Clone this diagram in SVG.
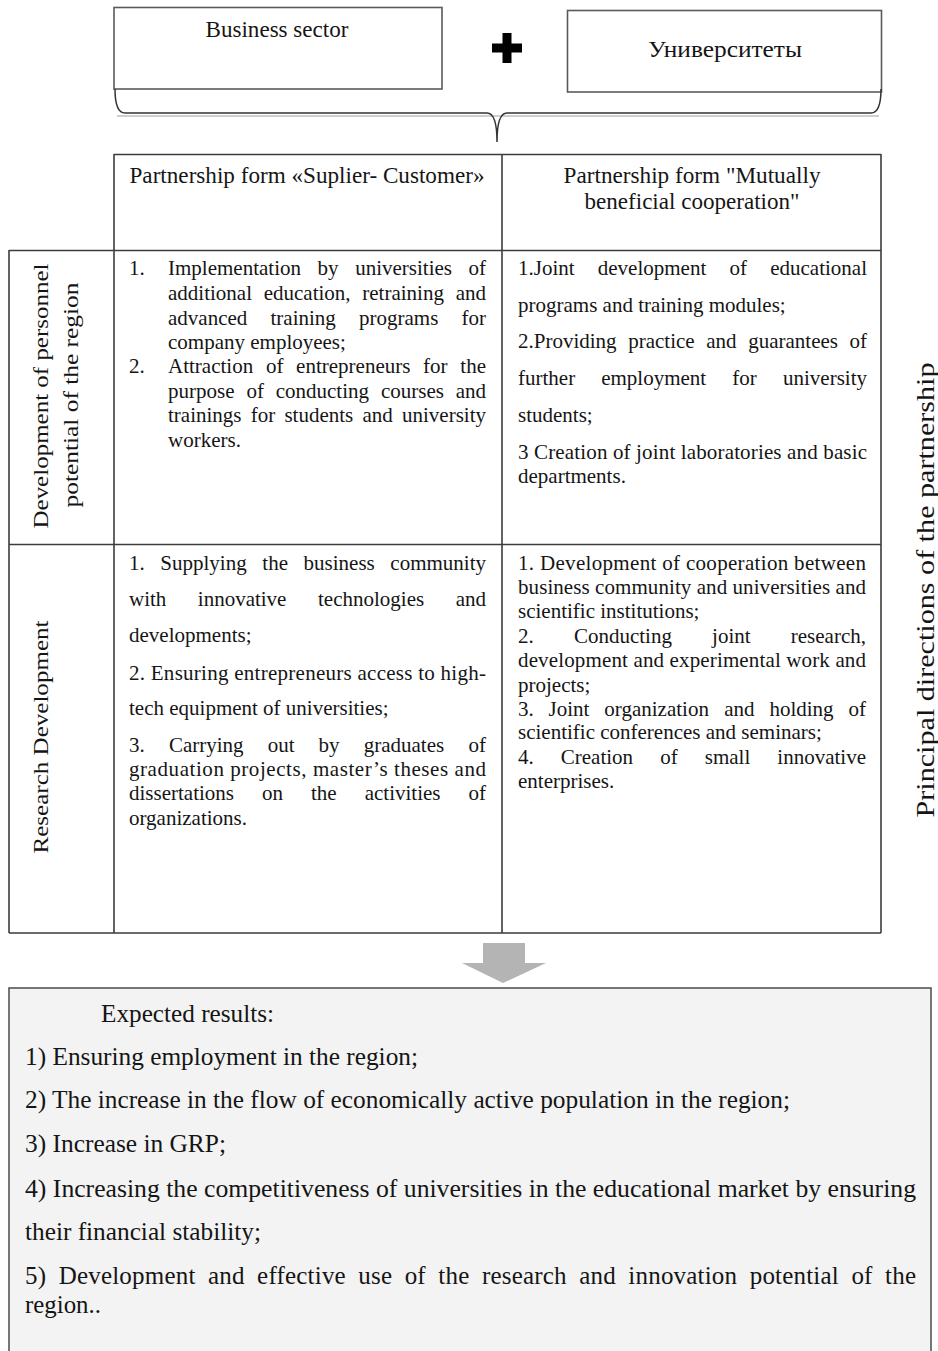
<svg xmlns="http://www.w3.org/2000/svg" width="938" height="1351" viewBox="0 0 938 1351">
<style>
.t{font-family:"Liberation Serif","Times New Roman",serif;font-size:21px;fill:#151515}
.h{font-family:"Liberation Serif","Times New Roman",serif;font-size:22.5px;fill:#151515;text-anchor:middle}
.v{font-family:"Liberation Serif","Times New Roman",serif;font-size:22px;fill:#151515;text-anchor:middle}
.r{font-family:"Liberation Serif","Times New Roman",serif;font-size:25px;fill:#151515}
.top{font-family:"Liberation Serif","Times New Roman",serif;font-size:23px;fill:#151515;text-anchor:middle}
.grid{stroke:#3c3c3c;stroke-width:1.6;fill:none}
.box{fill:#fff;stroke:#5a5a5a;stroke-width:1.6}
.e{text-anchor:end}
</style>
<rect width="938" height="1351" fill="#fff"/>

<g id="business-sector">
<rect class="box" x="114" y="7.5" width="328" height="81.5"/>
<text class="top" x="277" y="37" textLength="143" lengthAdjust="spacingAndGlyphs">Business sector</text>
</g>

<g id="plus">
<path d="M502.5,33 h9 v10.5 h10.5 v9 h-10.5 v10.5 h-9 v-10.5 h-10.5 v-9 h10.5 z" fill="#000"/>
</g>

<g id="universities">
<rect class="box" x="567.5" y="10.5" width="314" height="81.5"/>
<text class="top" x="725" y="57" textLength="154" lengthAdjust="spacingAndGlyphs">Университеты</text>
</g>

<g id="connectors">
<path d="M117,116 L879,116" stroke="#cfcfcf" stroke-width="2" fill="none"/>
<path d="M115,89 Q115,113 125,113 L487,113 Q497,113 497,142 Q497,113 507,113 L871,113 Q881,113 881,89" stroke="#333" stroke-width="1.5" fill="none"/>
<polygon points="483,943 525,943 525,963 546,963 503,983 462,963 483,963" fill="#b4b4b4"/>
</g>

<g id="table-grid">
<path class="grid" d="M114,154.5 H881 M9,250.5 H881 M9,544.5 H881 M9,933 H881 M9,250 V933 M114,154 V933 M502,154 V933 M881,154 V933"/>
</g>

<g id="header-supplier-customer">
<text class="h" x="307" y="183" textLength="355" lengthAdjust="spacingAndGlyphs">Partnership form «Suplier- Customer»</text>
</g>

<g id="header-mutually-beneficial">
<text class="h" x="692" y="183" textLength="257" lengthAdjust="spacingAndGlyphs">Partnership form "Mutually</text>
<text class="h" x="692" y="209" textLength="215" lengthAdjust="spacingAndGlyphs">beneficial cooperation"</text>
</g>

<g id="row-personnel">
<text class="v" transform="translate(48,396) rotate(-90)" textLength="265" lengthAdjust="spacingAndGlyphs">Development of personnel</text>
<text class="v" transform="translate(78,395) rotate(-90)" textLength="225" lengthAdjust="spacingAndGlyphs">potential of the region</text>
</g>

<g id="row-research">
<text class="v" transform="translate(48,737) rotate(-90)" textLength="233" lengthAdjust="spacingAndGlyphs">Research Development</text>
</g>

<g id="cell-personnel-supplier">
<text class="t" x="129" y="275">1.</text>
<text class="t" y="275"><tspan x="168">Implementation</tspan><tspan x="317.6">by</tspan><tspan x="355.2">universities</tspan><tspan x="486" class="e">of</tspan></text>
<text class="t" y="300"><tspan x="168">additional</tspan><tspan x="263.7">education,</tspan><tspan x="362.3">retraining</tspan><tspan x="486" class="e">and</tspan></text>
<text class="t" y="325"><tspan x="168">advanced</tspan><tspan x="270.5">training</tspan><tspan x="359">programs</tspan><tspan x="486" class="e">for</tspan></text>
<text class="t" x="168" y="349">company employees;</text>
<text class="t" x="129" y="373">2.</text>
<text class="t" y="373"><tspan x="168">Attraction</tspan><tspan x="265.9">of</tspan><tspan x="296.1">entrepreneurs</tspan><tspan x="423.1">for</tspan><tspan x="486" class="e">the</tspan></text>
<text class="t" y="398"><tspan x="168">purpose</tspan><tspan x="246.4">of</tspan><tspan x="275.7">conducting</tspan><tspan x="380.9">courses</tspan><tspan x="486" class="e">and</tspan></text>
<text class="t" y="422"><tspan x="168">trainings</tspan><tspan x="250.7">for</tspan><tspan x="284.4">students</tspan><tspan x="362.4">and</tspan><tspan x="486" class="e">university</tspan></text>
<text class="t" x="168" y="447">workers.</text>
</g>

<g id="cell-personnel-mutual">
<text class="t" y="275"><tspan x="518">1.Joint</tspan><tspan x="597.8">development</tspan><tspan x="729.5">of</tspan><tspan x="867" class="e">educational</tspan></text>
<text class="t" x="518" y="312">programs and training modules;</text>
<text class="t" y="348"><tspan x="518">2.Providing</tspan><tspan x="628.2">practice</tspan><tspan x="706.3">and</tspan><tspan x="748.2">guarantees</tspan><tspan x="867" class="e">of</tspan></text>
<text class="t" y="385"><tspan x="518">further</tspan><tspan x="601.2">employment</tspan><tspan x="732.3">for</tspan><tspan x="867" class="e">university</tspan></text>
<text class="t" x="518" y="422">students;</text>
<text class="t" x="518" y="459" textLength="349" lengthAdjust="spacing">3 Creation of joint laboratories and basic</text>
<text class="t" x="518" y="483">departments.</text>
</g>

<g id="cell-research-supplier">
<text class="t" y="570"><tspan x="129">1.</tspan><tspan x="160.3">Supplying</tspan><tspan x="262.3">the</tspan><tspan x="303.6">business</tspan><tspan x="486" class="e">community</tspan></text>
<text class="t" y="606"><tspan x="129">with</tspan><tspan x="197.8">innovative</tspan><tspan x="318">technologies</tspan><tspan x="486" class="e">and</tspan></text>
<text class="t" x="129" y="642">developments;</text>
<text class="t" x="129" y="680" textLength="357" lengthAdjust="spacing">2. Ensuring entrepreneurs access to high-</text>
<text class="t" x="129" y="715">tech equipment of universities;</text>
<text class="t" y="752"><tspan x="129">3.</tspan><tspan x="168.9">Carrying</tspan><tspan x="267.7">out</tspan><tspan x="318.6">by</tspan><tspan x="363.7">graduates</tspan><tspan x="486" class="e">of</tspan></text>
<text class="t" x="129" y="776" textLength="357" lengthAdjust="spacing">graduation projects, master’s theses and</text>
<text class="t" y="800"><tspan x="129">dissertations</tspan><tspan x="262">on</tspan><tspan x="311">the</tspan><tspan x="364.7">activities</tspan><tspan x="486" class="e">of</tspan></text>
<text class="t" x="129" y="825">organizations.</text>
</g>

<g id="cell-research-mutual">
<text class="t" x="518" y="570" textLength="348" lengthAdjust="spacing">1. Development of cooperation between</text>
<text class="t" x="518" y="594" textLength="348" lengthAdjust="spacing">business community and universities and</text>
<text class="t" x="518" y="618">scientific institutions;</text>
<text class="t" y="643"><tspan x="518">2.</tspan><tspan x="573.9">Conducting</tspan><tspan x="712.1">joint</tspan><tspan x="866" class="e">research,</tspan></text>
<text class="t" x="518" y="667" textLength="348" lengthAdjust="spacing">development and experimental work and</text>
<text class="t" x="518" y="692">projects;</text>
<text class="t" y="716"><tspan x="518">3.</tspan><tspan x="548.6">Joint</tspan><tspan x="604.3">organization</tspan><tspan x="724.2">and</tspan><tspan x="769.4">holding</tspan><tspan x="866" class="e">of</tspan></text>
<text class="t" x="518" y="739">scientific conferences and seminars;</text>
<text class="t" y="764"><tspan x="518">4.</tspan><tspan x="560.8">Creation</tspan><tspan x="660.2">of</tspan><tspan x="704.8">small</tspan><tspan x="866" class="e">innovative</tspan></text>
<text class="t" x="518" y="788">enterprises.</text>
</g>

<g id="principal-directions">
<text class="v" style="font-size:26px" transform="translate(934,590) rotate(-90)" textLength="455" lengthAdjust="spacingAndGlyphs">Principal directions of the partnership</text>
</g>

<g id="expected-results">
<rect x="9" y="988" width="922" height="372" fill="#f3f3f3" stroke="#555" stroke-width="1.6"/>
<text class="r" x="101" y="1022" textLength="173" lengthAdjust="spacingAndGlyphs">Expected results:</text>
<text class="r" x="25" y="1065" textLength="393" lengthAdjust="spacingAndGlyphs">1) Ensuring employment in the region;</text>
<text class="r" x="25" y="1108" textLength="765" lengthAdjust="spacingAndGlyphs">2) The increase in the flow of economically active population in the region;</text>
<text class="r" x="25" y="1152" textLength="201" lengthAdjust="spacingAndGlyphs">3) Increase in GRP;</text>
<text class="r" x="25" y="1197" textLength="891" lengthAdjust="spacingAndGlyphs">4) Increasing the competitiveness of universities in the educational market by ensuring</text>
<text class="r" x="25" y="1240" textLength="236" lengthAdjust="spacingAndGlyphs">their financial stability;</text>
<text class="r" x="25" y="1284" style="word-spacing:6px" textLength="891" lengthAdjust="spacing">5) Development and effective use of the research and innovation potential of the</text>
<text class="r" x="25" y="1313" textLength="76" lengthAdjust="spacingAndGlyphs">region..</text>
</g>
</svg>
